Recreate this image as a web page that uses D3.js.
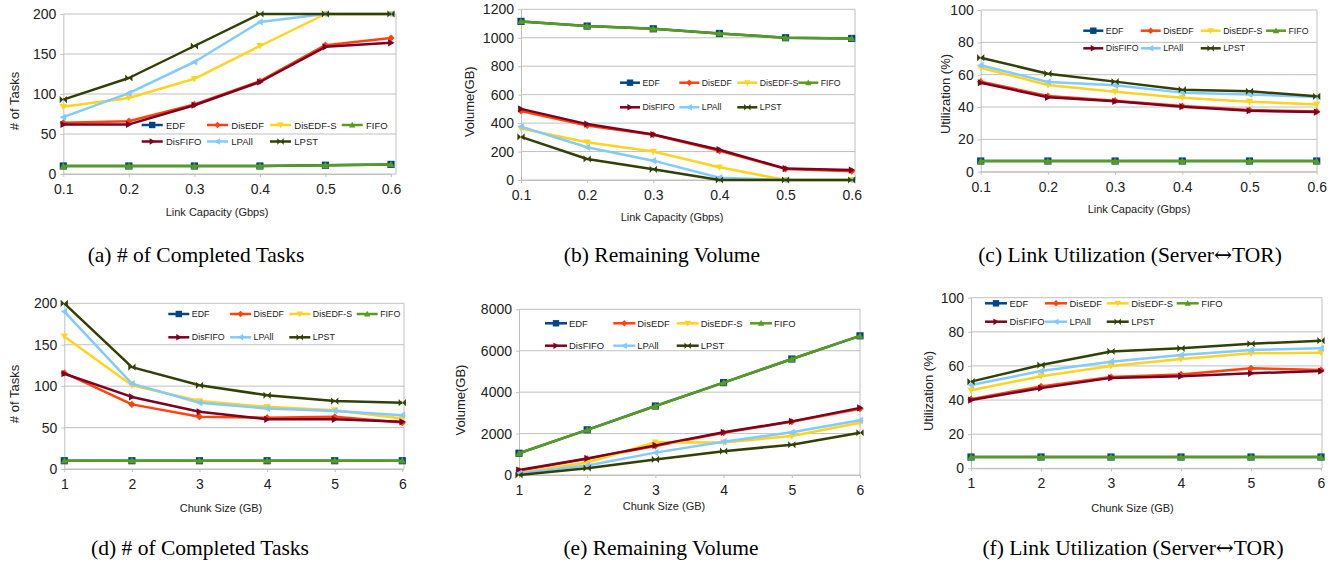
<!DOCTYPE html>
<html>
<head>
<meta charset="utf-8">
<script src="https://cdn.jsdelivr.net/npm/d3@7"></script>
<style>
  html, body { margin: 0; padding: 0; background: #fff; }
  svg { display: block; }
</style>
</head>
<body>
<svg id="chart" width="1340" height="565"></svg>
<script>
// ---- data ----
var seriesNames = ['EDF', 'DisEDF', 'DisEDF-S', 'FIFO', 'DisFIFO', 'LPAll', 'LPST'];
var capacity = [0.1, 0.2, 0.3, 0.4, 0.5, 0.6];
var chunkSize = [1, 2, 3, 4, 5, 6];

// series order: EDF, DisEDF, DisEDF-S, FIFO, DisFIFO, LPAll, LPST
var tasksByCapacity = [
    [10, 10, 10, 10, 11, 12],
    [64, 66, 87, 116, 161, 170],
    [84, 95, 119, 160, 200, 200],
    [10, 10, 10, 10, 11, 12],
    [62, 62, 86, 115, 159, 164],
    [71, 101, 140, 190, 200, 200],
    [93, 120, 160, 200, 200, 200]
];
var volumeByCapacity = [
    [1115, 1082, 1063, 1030, 1000, 995],
    [485, 383, 318, 205, 78, 62],
    [362, 265, 200, 89, 0, 0],
    [1115, 1082, 1063, 1030, 1000, 995],
    [500, 393, 320, 213, 80, 70],
    [375, 230, 136, 16, 0, 0],
    [303, 148, 75, 0, 0, 0]
];
var utilByCapacity = [
    [6.6, 6.6, 6.6, 6.6, 6.6, 6.6],
    [55.7, 46.8, 43.9, 40.6, 38.1, 37.3],
    [64.3, 53.6, 49.5, 45.8, 43.3, 41.6],
    [6.6, 6.6, 6.6, 6.6, 6.6, 6.6],
    [55, 46, 43.5, 40.2, 37.7, 36.9],
    [65.8, 55.5, 53.4, 48.9, 47.8, 46.2],
    [70.5, 60.6, 55.7, 50.7, 49.7, 46.6]
];
var tasksByChunk = [
    [10, 10, 10, 10, 10, 10],
    [116, 78, 63, 62, 63, 56],
    [160, 101, 82, 75, 71, 61],
    [10, 10, 10, 10, 10, 10],
    [115, 87, 69, 60, 60, 57],
    [190, 103, 80, 73, 70, 65],
    [200, 123, 101, 89, 82, 80]
];
var volumeByChunk = [
    [1050, 2180, 3330, 4460, 5600, 6720],
    [210, 780, 1400, 2040, 2570, 3200],
    [100, 600, 1580, 1570, 1880, 2520],
    [1050, 2180, 3330, 4460, 5600, 6720],
    [240, 800, 1430, 2060, 2590, 3240],
    [80, 460, 1080, 1610, 2060, 2640],
    [0, 330, 750, 1150, 1460, 2040]
];
var utilByChunk = [
    [6.6, 6.6, 6.6, 6.6, 6.6, 6.6],
    [40.5, 48, 53.5, 55, 58.6, 57.6],
    [45.7, 54, 60, 64, 67.4, 67.8],
    [6.6, 6.6, 6.6, 6.6, 6.6, 6.6],
    [40, 47, 53, 54, 55.7, 57],
    [48.8, 57, 62.5, 66.4, 69.3, 70.3],
    [50.8, 60.5, 68.5, 70.3, 73, 74.8]
];

var tasksTicks = [0, 50, 100, 150, 200];
var volumeCapTicks = [0, 200, 400, 600, 800, 1000, 1200];
var utilTicks = [0, 20, 40, 60, 80, 100];
var volumeChunkTicks = [0, 2000, 4000, 6000, 8000];

var colors = ['#004586', '#ff420e', '#ffd320', '#579d1c', '#7e0021', '#83caff', '#314004'];

// ---- drawing ----
var sans = "'Liberation Sans', Arial, sans-serif",
    serif = "'Liberation Serif', 'Times New Roman', serif",
    gridColor = '#c0c0c0',
    svg = d3.select('#chart');

function markerPath(i, r) {
    var k = r * 0.8;
    switch (i) {
        case 0: return 'M' + (-r) + ',' + (-r) + 'h' + 2 * r + 'v' + 2 * r + 'h' + (-2 * r) + 'Z';
        case 1: return 'M0,' + (-r) + 'L' + r + ',0L0,' + r + 'L' + (-r) + ',0Z';
        case 2: return 'M' + (-r) + ',' + (-k) + 'L' + r + ',' + (-k) + 'L0,' + r + 'Z';
        case 3: return 'M' + (-r) + ',' + k + 'L' + r + ',' + k + 'L0,' + (-r) + 'Z';
        case 4: return 'M' + (-k) + ',' + (-r) + 'L' + r + ',0L' + (-k) + ',' + r + 'Z';
        case 5: return 'M' + k + ',' + (-r) + 'L' + (-r) + ',0L' + k + ',' + r + 'Z';
        default: return 'M' + (-r) + ',' + (-r) + 'L0,0L' + (-r) + ',' + r + 'Z' +
                        'M' + r + ',' + (-r) + 'L0,0L' + r + ',' + r + 'Z';
    }
}

function drawPanel(p) {
    var g = svg.append('g'),
        x = d3.scaleLinear().domain(d3.extent(p.xs)).range([p.box.x0, p.box.x1]),
        y = d3.scaleLinear().domain([0, d3.max(p.ticks)]).range([p.box.y0, p.box.y1]);

    // grid
    g.append('g').selectAll('line')
        .data(p.ticks)
        .join('line')
        .attr('x1', p.box.x0)
        .attr('x2', p.box.right)
        .attr('y1', function (d) { return y(d); })
        .attr('y2', function (d) { return y(d); })
        .attr('stroke', gridColor)
        .attr('stroke-width', 1);
    g.append('line')
        .attr('x1', p.box.right).attr('x2', p.box.right)
        .attr('y1', p.box.y1).attr('y2', p.box.y0)
        .attr('stroke', gridColor);

    var yAxis = g.append('g')
        .attr('transform', 'translate(' + p.box.x0 + ',0)')
        .call(d3.axisLeft(y).tickValues(p.ticks).tickFormat(d3.format('d'))
            .tickSize(3).tickPadding(4).tickSizeOuter(0));
    var xAxis = g.append('g')
        .attr('transform', 'translate(0,' + p.box.y0 + ')')
        .call(d3.axisBottom(x).tickValues(p.xs).tickFormat(p.fmt)
            .tickSize(3).tickPadding(7).tickSizeOuter(0));
    [yAxis, xAxis].forEach(function (a) {
        a.selectAll('path, line').attr('stroke', gridColor);
        a.selectAll('text')
            .attr('fill', '#222')
            .style('font-family', sans)
            .style('font-size', '14px');
    });

    // series
    var line = d3.line()
        .x(function (d, i) { return x(p.xs[i]); })
        .y(function (d) { return y(d); });

    p.values.forEach(function (vals, si) {
        g.append('path')
            .datum(vals)
            .attr('d', line)
            .attr('fill', 'none')
            .attr('stroke', colors[si])
            .attr('stroke-width', 2.5)
            .attr('stroke-linejoin', 'round');
        g.append('g').selectAll('path')
            .data(vals)
            .join('path')
            .attr('transform', function (d, i) { return 'translate(' + x(p.xs[i]) + ',' + y(d) + ')'; })
            .attr('d', markerPath(si, 3.6))
            .attr('fill', colors[si]);
    });

    // axis titles
    g.append('text')
        .attr('x', p.xTitle[1])
        .attr('y', p.xTitle[2])
        .attr('text-anchor', 'middle')
        .attr('fill', '#222')
        .style('font-family', sans)
        .style('font-size', '11px')
        .text(p.xTitle[0]);
    g.append('text')
        .attr('transform', 'translate(' + p.yTitle[1] + ',' + p.yTitle[2] + ') rotate(-90)')
        .attr('text-anchor', 'middle')
        .attr('dominant-baseline', 'central')
        .attr('fill', '#222')
        .style('font-family', sans)
        .style('font-size', '13px')
        .text(p.yTitle[0]);

    // legend: 2 rows x 4 cols
    var L = p.legend;
    seriesNames.forEach(function (name, si) {
        var row = si < 4 ? 0 : 1,
            col = si < 4 ? si : si - 4,
            item = g.append('g').attr('transform', 'translate(' + L.cols[col] + ',' + L.rows[row] + ')');
        item.append('line')
            .attr('x1', 0).attr('x2', L.len)
            .attr('y1', 0).attr('y2', 0)
            .attr('stroke', colors[si])
            .attr('stroke-width', 2.5);
        item.append('path')
            .attr('transform', 'translate(' + L.len / 2 + ',0)')
            .attr('d', markerPath(si, 3.2))
            .attr('fill', colors[si]);
        item.append('text')
            .attr('x', L.textOff)
            .attr('y', 0)
            .attr('dominant-baseline', 'central')
            .attr('fill', '#222')
            .style('font-family', sans)
            .style('font-size', L.fs + 'px')
            .text(name);
    });

    // caption; arrow taken from DejaVu, which has a full-width glyph
    var cap = svg.append('text')
        .attr('x', p.caption[1])
        .attr('y', p.caption[2])
        .attr('text-anchor', 'middle')
        .attr('fill', '#000')
        .style('font-family', serif)
        .style('font-size', '21.5px');
    var parts = p.caption[0].split('\u2194');
    cap.append('tspan').text(parts[0]);
    if (parts.length > 1) {
        cap.append('tspan').style('font-family', "'DejaVu Serif', 'DejaVu Sans'").text('\u2194');
        cap.append('tspan').text(parts[1]);
    }
}

var fmtCap = d3.format('.1f'),
    fmtChunk = d3.format('d');

drawPanel({
    xs: capacity, fmt: fmtCap, values: tasksByCapacity, ticks: tasksTicks,
    box: { x0: 63.3, x1: 391, y0: 174, y1: 14, right: 396 },
    xTitle: ['Link Capacity (Gbps)', 217, 216], yTitle: ['# of Tasks', 14, 101],
    legend: { fs: 9.5, rows: [125, 141.5], cols: [141.7, 207, 270, 341.7], len: 21, textOff: 24.3 },
    caption: ['(a) # of Completed Tasks', 196, 262]
});
drawPanel({
    xs: capacity, fmt: fmtCap, values: volumeByCapacity, ticks: volumeCapTicks,
    box: { x0: 521, x1: 851.7, y0: 180, y1: 9.3, right: 855 },
    xTitle: ['Link Capacity (Gbps)', 672, 221], yTitle: ['Volume(GB)', 469, 101.7],
    legend: { fs: 8.7, rows: [82.7, 107.3], cols: [620, 679.3, 737.3, 798.3], len: 20, textOff: 22.5 },
    caption: ['(b) Remaining Volume', 662, 262]
});
drawPanel({
    xs: capacity, fmt: fmtCap, values: utilByCapacity, ticks: utilTicks,
    box: { x0: 980.7, x1: 1316.7, y0: 171.7, y1: 10, right: 1317 },
    xTitle: ['Link Capacity (Gbps)', 1139, 213], yTitle: ['Utilization (%)', 945.7, 94],
    legend: { fs: 8.8, rows: [30.7, 48.3], cols: [1083.3, 1140.7, 1200.7, 1266], len: 20, textOff: 22.5 },
    caption: ['(c) Link Utilization (Server\u2194TOR)', 1130, 262]
});
drawPanel({
    xs: chunkSize, fmt: fmtChunk, values: tasksByChunk, ticks: tasksTicks,
    box: { x0: 64.3, x1: 402.3, y0: 469, y1: 303.3, right: 404 },
    xTitle: ['Chunk Size (GB)', 221, 511.5], yTitle: ['# of Tasks', 14, 394],
    legend: { fs: 8.85, rows: [314, 337.3], cols: [168.3, 230, 289.3, 356.7], len: 21, textOff: 23.5 },
    caption: ['(d) # of Completed Tasks', 200, 555]
});
drawPanel({
    xs: chunkSize, fmt: fmtChunk, values: volumeByChunk, ticks: volumeChunkTicks,
    box: { x0: 519, x1: 860, y0: 475, y1: 309.3, right: 860 },
    xTitle: ['Chunk Size (GB)', 664, 509.5], yTitle: ['Volume(GB)', 460, 400],
    legend: { fs: 9.45, rows: [323.3, 345.7], cols: [545, 613.3, 676.7, 750], len: 22, textOff: 24 },
    caption: ['(e) Remaining Volume', 661, 555]
});
drawPanel({
    xs: chunkSize, fmt: fmtChunk, values: utilByChunk, ticks: utilTicks,
    box: { x0: 971, x1: 1321, y0: 468.3, y1: 297.7, right: 1322 },
    xTitle: ['Chunk Size (GB)', 1132.5, 511.5], yTitle: ['Utilization (%)', 928, 391],
    legend: { fs: 9.45, rows: [303.3, 321.7], cols: [985, 1045, 1106.7, 1176.7], len: 22, textOff: 24.5 },
    caption: ['(f) Link Utilization (Server\u2194TOR)', 1133, 555]
});
</script>
</body>
</html>
